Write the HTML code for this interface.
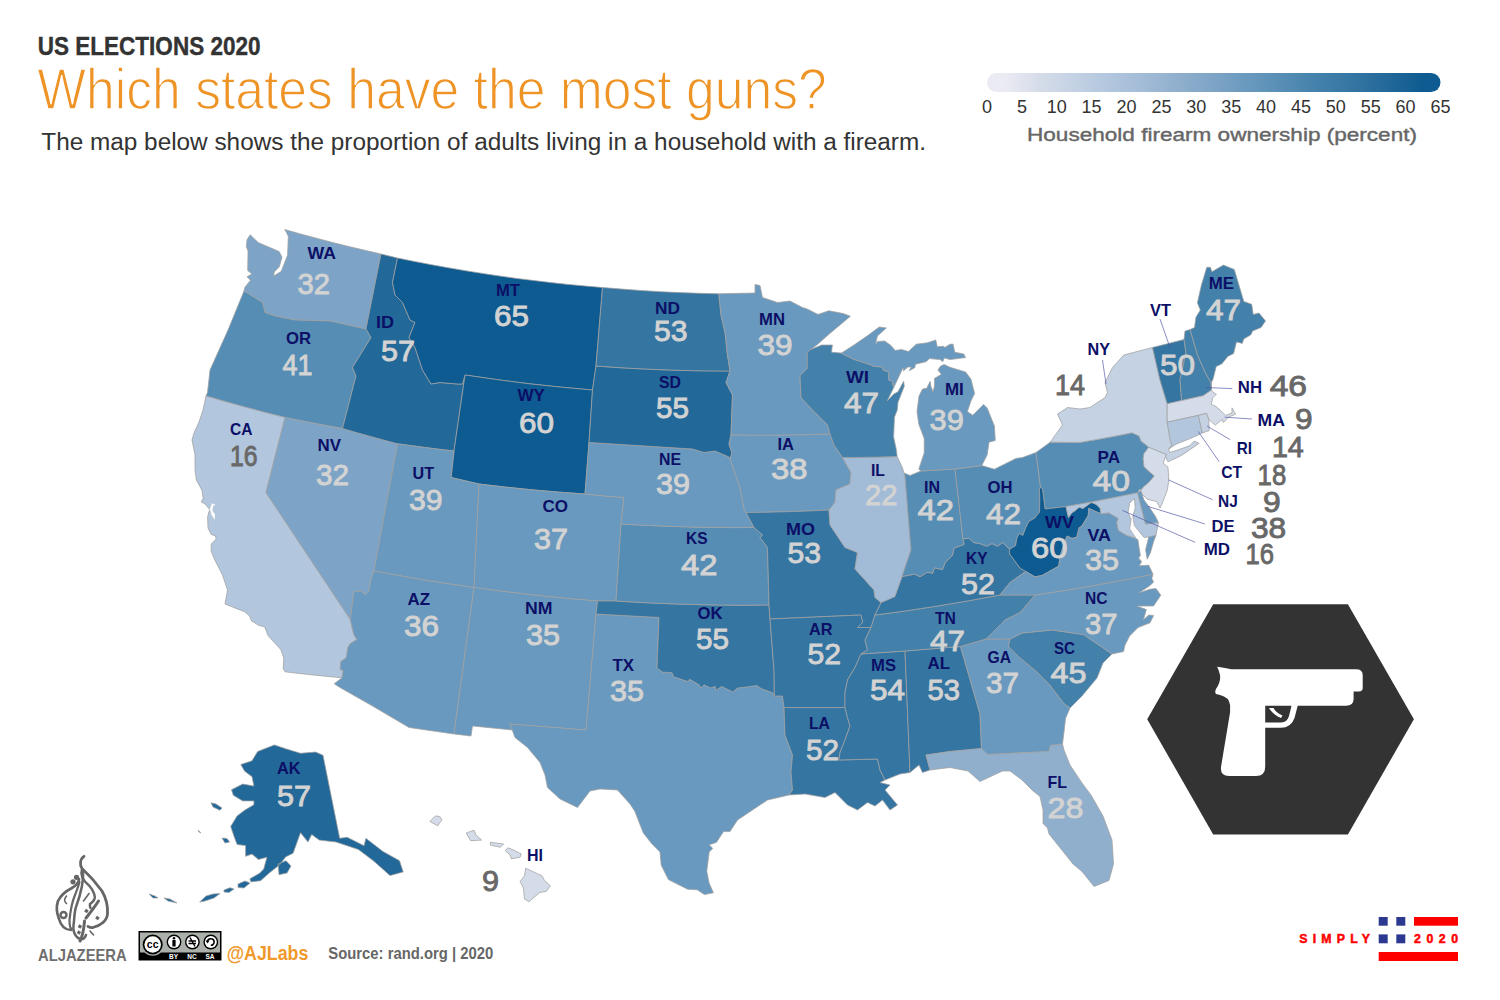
<!DOCTYPE html><html><head><meta charset="utf-8"><style>html,body{margin:0;padding:0;background:#fff;width:1500px;height:1000px;overflow:hidden}svg{display:block}text{font-family:"Liberation Sans",sans-serif}</style></head><body>
<svg width="1500" height="1000" viewBox="0 0 1500 1000">
<rect width="1500" height="1000" fill="#fff"/>
<text x="37.8" y="54.9" font-size="25.3" font-weight="bold" fill="#333333" textLength="222.7" lengthAdjust="spacingAndGlyphs" stroke="#333" stroke-width="0.4">US ELECTIONS 2020</text>
<text x="37.3" y="108.5" font-size="56.5" font-weight="normal" fill="#ee9325" textLength="789.4" lengthAdjust="spacingAndGlyphs" stroke="#fff" stroke-width="1.3">Which states have the most guns?</text>
<text x="41.3" y="150.0" font-size="23.3" font-weight="normal" fill="#333333" textLength="884.7" lengthAdjust="spacingAndGlyphs">The map below shows the proportion of adults living in a household with a firearm.</text>
<defs><clipPath id="lg"><rect x="987" y="73" width="453.5" height="19" rx="9.5"/></clipPath></defs>
<defs><linearGradient id="lgr" x1="987" y1="0" x2="1440.5" y2="0" gradientUnits="userSpaceOnUse"><stop offset="0.0385" stop-color="#ebebf3"/><stop offset="0.1154" stop-color="#d5dce9"/><stop offset="0.1923" stop-color="#c4d2e4"/><stop offset="0.2692" stop-color="#b2c6de"/><stop offset="0.3462" stop-color="#a2bbd7"/><stop offset="0.4231" stop-color="#8fafcd"/><stop offset="0.5000" stop-color="#7da4c6"/><stop offset="0.5769" stop-color="#6999be"/><stop offset="0.6538" stop-color="#568db5"/><stop offset="0.7308" stop-color="#4381ab"/><stop offset="0.8077" stop-color="#3575a2"/><stop offset="0.8846" stop-color="#226899"/><stop offset="0.9615" stop-color="#0e5b91"/></linearGradient></defs>
<rect x="987" y="73" width="453.5" height="19" rx="9.5" fill="url(#lgr)"/>
<text x="987.0" y="113" font-size="18" fill="#333" text-anchor="middle">0</text>
<text x="1021.9" y="113" font-size="18" fill="#333" text-anchor="middle">5</text>
<text x="1056.8" y="113" font-size="18" fill="#333" text-anchor="middle">10</text>
<text x="1091.6" y="113" font-size="18" fill="#333" text-anchor="middle">15</text>
<text x="1126.5" y="113" font-size="18" fill="#333" text-anchor="middle">20</text>
<text x="1161.4" y="113" font-size="18" fill="#333" text-anchor="middle">25</text>
<text x="1196.3" y="113" font-size="18" fill="#333" text-anchor="middle">30</text>
<text x="1231.2" y="113" font-size="18" fill="#333" text-anchor="middle">35</text>
<text x="1266.0" y="113" font-size="18" fill="#333" text-anchor="middle">40</text>
<text x="1300.9" y="113" font-size="18" fill="#333" text-anchor="middle">45</text>
<text x="1335.8" y="113" font-size="18" fill="#333" text-anchor="middle">50</text>
<text x="1370.7" y="113" font-size="18" fill="#333" text-anchor="middle">55</text>
<text x="1405.6" y="113" font-size="18" fill="#333" text-anchor="middle">60</text>
<text x="1440.4" y="113" font-size="18" fill="#333" text-anchor="middle">65</text>
<text x="1027.0" y="140.8" font-size="19.2" font-weight="normal" fill="#666666" textLength="390.0" lengthAdjust="spacingAndGlyphs" stroke="#666" stroke-width="0.4">Household firearm ownership (percent)</text>
<g stroke="#a0a0a0" stroke-width="0.75" stroke-linejoin="round">
<path d="M284.8,229.5L300.7,234.0L316.7,238.3L332.7,242.5L348.8,246.5L364.9,250.3L381.0,254.0L366.0,329.0L330.0,321.0L295.0,320.0L275.0,316.0L265.0,312.5L262.5,302.5L244.0,291.0L244.9,287.3L250.5,280.3L247.0,276.8L251.9,274.0L247.7,270.5L248.0,250.9L246.3,246.7L247.0,239.7L250.2,234.8L258.2,242.5L277.8,250.9L279.2,251.6L282.0,257.2L279.2,267.0L274.3,271.9L273.6,276.1L281.3,271.2L287.6,255.1L288.3,236.2L284.8,229.5Z" fill="#7da4c6"/>
<path d="M366.0,329.0L371.0,337.5L352.5,367.5L356.0,376.0L342.5,428.5L328.1,425.9L313.7,423.2L299.3,420.4L285.0,417.5L265.2,412.5L245.4,407.2L225.7,401.7L206.0,396.0L207.5,392.5L210.0,370.0L228.0,330.0L244.0,291.0L262.5,302.5L265.0,312.5L275.0,316.0L295.0,320.0L330.0,321.0L366.0,329.0Z" fill="#568db5"/>
<path d="M206.0,396.0L203.0,410.0L199.0,422.0L194.0,433.0L192.0,440.0L195.0,455.0L195.0,470.0L196.4,480.0L202.0,490.4L203.2,498.4L201.2,502.0L205.2,504.0L209.6,509.6L207.6,516.8L208.0,528.0L211.2,534.4L215.6,536.0L216.0,539.2L211.2,544.0L211.2,551.2L214.8,560.0L222.5,575.0L227.5,590.0L225.0,604.0L240.0,610.0L244.8,611.8L249.6,616.0L251.4,620.8L259.2,625.6L264.6,626.8L268.2,635.8L280.8,649.6L283.8,658.0L283.2,668.8L285.0,671.8L304.0,674.0L323.0,676.0L342.0,677.8L343.2,670.6L340.2,669.4L340.8,661.6L346.2,658.0L348.0,647.2L350.4,643.6L357.0,639.4L354.0,635.2L352.2,628.0L350.4,619.6L266.0,492.5L285.0,417.5L265.2,412.5L245.4,407.2L225.7,401.7L206.0,396.0Z" fill="#b2c6de"/>
<path d="M342.5,428.5L356.2,432.5L369.9,436.3L383.7,440.1L397.5,443.8L374.0,571.0L370.8,580.0L369.0,590.8L365.4,595.0L361.8,591.4L354.0,591.4L352.8,599.8L350.4,619.6L266.0,492.5L285.0,417.5L299.3,420.4L313.7,423.2L328.1,425.9L342.5,428.5Z" fill="#7da4c6"/>
<path d="M381.0,254.0L397.5,258.0L392.5,282.5L395.0,295.0L402.5,302.5L410.0,320.0L415.0,322.5L409.0,337.5L415.0,347.5L422.5,370.0L431.0,384.0L440.0,382.5L457.5,384.0L462.5,384.0L465.0,375.0L454.0,451.0L439.9,449.4L425.7,447.6L411.6,445.7L397.5,443.8L383.7,440.1L369.9,436.3L356.2,432.5L342.5,428.5L356.0,376.0L352.5,367.5L371.0,337.5L366.0,329.0L381.0,254.0Z" fill="#226899"/>
<path d="M397.5,258.0L414.4,261.4L431.4,264.7L448.4,267.8L465.4,270.7L482.5,273.4L499.5,276.0L516.7,278.4L533.8,280.5L550.9,282.6L568.1,284.4L585.3,286.0L602.5,287.5L596.0,366.0L592.5,390.0L560.5,387.1L528.6,383.7L496.8,379.6L465.0,375.0L462.5,384.0L457.5,384.0L440.0,382.5L431.0,384.0L422.5,370.0L415.0,347.5L409.0,337.5L415.0,322.5L410.0,320.0L402.5,302.5L395.0,295.0L392.5,282.5L397.5,258.0Z" fill="#0e5b91"/>
<path d="M465.0,375.0L496.8,379.6L528.6,383.7L560.5,387.1L592.5,390.0L589.0,442.5L585.0,494.0L558.5,492.1L531.9,489.8L505.5,487.1L479.0,484.0L451.0,477.5L454.0,451.0L465.0,375.0Z" fill="#0e5b91"/>
<path d="M397.5,443.8L411.6,445.7L425.7,447.6L439.9,449.4L454.0,451.0L451.0,477.5L479.0,484.0L474.0,587.5L448.9,583.9L423.9,579.9L398.9,575.6L374.0,571.0L397.5,443.8Z" fill="#6999be"/>
<path d="M479.0,484.0L505.5,487.1L531.9,489.8L558.5,492.1L585.0,494.0L604.5,495.9L624.0,497.5L621.0,524.0L616.0,601.0L597.5,601.0L566.5,598.4L535.6,595.2L504.8,591.6L474.0,587.5L479.0,484.0Z" fill="#6999be"/>
<path d="M374.0,571.0L398.9,575.6L423.9,579.9L448.9,583.9L474.0,587.5L454.0,734.0L409.0,727.5L372.5,706.0L340.0,687.5L334.2,683.8L342.0,677.8L343.2,670.6L340.2,669.4L340.8,661.6L346.2,658.0L348.0,647.2L350.4,643.6L357.0,639.4L354.0,635.2L352.2,628.0L350.4,619.6L352.8,599.8L354.0,591.4L361.8,591.4L365.4,595.0L369.0,590.8L370.8,580.0L374.0,571.0Z" fill="#6999be"/>
<path d="M474.0,587.5L504.8,591.6L535.6,595.2L566.5,598.4L597.5,601.0L596.0,614.0L586.0,730.0L510.0,724.0L512.5,730.0L472.5,726.0L471.0,736.0L454.0,734.0L474.0,587.5Z" fill="#6999be"/>
<path d="M596.0,614.0L659.0,617.5L657.0,668.0L662.4,672.0L672.0,672.8L673.6,676.8L688.0,681.6L689.6,679.2L699.2,684.8L700.8,688.0L704.0,684.8L710.4,688.0L715.2,686.4L716.0,690.4L721.6,686.4L732.8,692.0L737.6,688.0L745.6,687.2L750.4,686.4L756.8,685.6L761.6,688.8L772.8,692.8L774.4,696.0L782.4,696.0L784.0,707.5L785.0,735.0L792.5,755.0L791.0,772.5L792.5,790.0L789.0,795.0L767.5,800.0L737.5,820.0L730.0,831.6L723.6,831.6L716.4,842.4L709.2,844.8L712.8,848.4L709.2,852.0L706.8,871.2L709.2,883.2L713.4,892.8L704.4,894.6L697.2,889.8L687.6,889.2L678.0,884.4L668.4,879.6L661.2,865.2L660.0,852.0L651.6,843.6L643.2,832.8L634.8,811.2L630.0,804.0L617.5,790.0L600.0,789.0L590.0,791.0L577.5,807.5L560.0,799.0L547.5,787.5L545.0,775.0L540.0,762.5L527.5,747.5L515.0,737.5L510.0,724.0L586.0,730.0L596.0,614.0Z" fill="#6999be"/>
<path d="M616.0,601.0L641.5,602.5L667.0,603.7L692.5,604.5L718.0,605.0L743.5,605.2L769.0,605.0L770.0,619.0L774.0,670.0L774.4,696.0L772.8,692.8L761.6,688.8L756.8,685.6L750.4,686.4L745.6,687.2L737.6,688.0L732.8,692.0L721.6,686.4L716.0,690.4L715.2,686.4L710.4,688.0L704.0,684.8L700.8,688.0L699.2,684.8L689.6,679.2L688.0,681.6L673.6,676.8L672.0,672.8L662.4,672.0L657.0,668.0L659.0,617.5L596.0,614.0L597.5,601.0L616.0,601.0Z" fill="#3575a2"/>
<path d="M621.0,524.0L643.1,525.2L665.3,526.2L687.5,526.9L709.6,527.4L731.8,527.6L754.0,527.5L762.5,535.0L760.0,537.5L767.5,547.5L769.0,605.0L743.5,605.2L718.0,605.0L692.5,604.5L667.0,603.7L641.5,602.5L616.0,601.0L621.0,524.0Z" fill="#568db5"/>
<path d="M589.0,442.5L692.5,449.0L704.0,452.5L715.0,451.0L729.0,457.0L730.0,459.0L740.0,487.5L744.0,509.0L746.0,512.5L754.0,527.5L731.8,527.6L709.6,527.4L687.5,526.9L665.3,526.2L643.1,525.2L621.0,524.0L624.0,497.5L604.5,495.9L585.0,494.0L589.0,442.5Z" fill="#6999be"/>
<path d="M596.0,366.0L618.3,367.6L640.6,368.8L663.0,369.8L685.3,370.5L707.7,370.9L730.0,371.0L726.0,382.5L732.5,395.0L731.0,435.0L729.0,444.0L732.0,453.0L730.0,459.0L729.0,457.0L715.0,451.0L704.0,452.5L692.5,449.0L589.0,442.5L592.5,390.0L596.0,366.0Z" fill="#226899"/>
<path d="M602.5,287.5L621.8,289.1L641.2,290.5L660.6,291.7L679.9,292.6L699.3,293.3L718.8,293.8L721.0,315.0L725.0,332.5L727.5,355.0L730.0,371.0L707.7,370.9L685.3,370.5L663.0,369.8L640.6,368.8L618.3,367.6L596.0,366.0L602.5,287.5Z" fill="#3575a2"/>
<path d="M718.8,293.8L755.0,293.0L755.0,284.5L760.0,285.5L762.5,297.5L777.5,302.5L790.0,301.0L802.5,307.5L807.2,309.0L818.0,314.4L828.8,310.8L843.2,313.5L850.4,316.2L840.0,325.0L828.0,335.0L818.0,344.0L810.8,349.5L807.2,352.2L807.2,368.4L800.0,375.6L801.0,397.5L812.5,410.0L827.5,425.0L830.0,434.0L805.3,434.8L780.5,435.2L755.7,435.3L731.0,435.0L732.5,395.0L726.0,382.5L730.0,371.0L727.5,355.0L725.0,332.5L721.0,315.0L718.8,293.8Z" fill="#6999be"/>
<path d="M731.0,435.0L755.7,435.3L780.5,435.2L805.3,434.8L830.0,434.0L834.0,445.0L842.5,457.5L851.0,472.5L850.0,484.0L836.0,490.0L835.0,502.5L829.0,510.0L808.3,511.0L787.5,511.7L766.8,512.2L746.0,512.5L744.0,509.0L740.0,487.5L730.0,459.0L732.0,453.0L729.0,444.0L731.0,435.0Z" fill="#6999be"/>
<path d="M746.0,512.5L766.8,512.2L787.5,511.7L808.3,511.0L829.0,510.0L830.0,525.0L845.0,547.5L857.5,552.5L855.0,569.0L865.0,580.0L874.0,590.0L875.0,597.5L881.0,602.5L880.0,605.0L875.0,615.0L871.0,627.5L857.5,627.5L862.5,622.5L861.0,615.0L770.0,619.0L769.0,605.0L767.5,547.5L760.0,537.5L762.5,535.0L754.0,527.5L746.0,512.5Z" fill="#3575a2"/>
<path d="M770.0,619.0L861.0,615.0L862.5,622.5L857.5,627.5L871.0,627.5L865.0,640.0L867.5,650.0L861.0,654.0L855.0,667.5L847.5,680.0L845.0,692.5L845.0,707.5L829.7,707.7L814.5,707.7L799.2,707.7L784.0,707.5L782.4,696.0L774.4,696.0L774.0,670.0L770.0,619.0Z" fill="#3575a2"/>
<path d="M784.0,707.5L799.2,707.7L814.5,707.7L829.7,707.7L845.0,707.5L847.5,717.5L850.0,726.0L845.0,740.0L840.0,752.5L839.0,760.0L877.5,759.0L880.0,770.0L885.0,780.0L880.0,782.5L890.0,785.0L885.0,790.0L897.5,805.0L890.0,810.0L882.5,800.0L875.0,806.0L867.5,802.5L857.5,810.0L847.5,805.0L842.5,800.0L835.0,792.5L825.0,797.5L805.0,794.0L789.0,795.0L792.5,790.0L791.0,772.5L792.5,755.0L785.0,735.0L784.0,707.5Z" fill="#3575a2"/>
<path d="M861.0,654.0L905.0,651.0L910.0,772.5L900.0,774.0L885.0,780.0L880.0,770.0L877.5,759.0L839.0,760.0L840.0,752.5L845.0,740.0L850.0,726.0L847.5,717.5L845.0,707.5L845.0,692.5L847.5,680.0L855.0,667.5L861.0,654.0Z" fill="#3575a2"/>
<path d="M905.0,651.0L960.5,646.5L980.0,714.0L981.5,748.5L950.0,751.5L926.0,755.0L930.0,770.0L922.5,772.5L919.0,765.0L910.0,772.5L905.0,651.0Z" fill="#3575a2"/>
<path d="M960.5,646.5L986.0,639.0L1010.0,639.0L1008.5,646.5L1019.0,657.0L1037.0,672.0L1049.0,684.0L1064.0,703.5L1070.0,708.0L1065.5,718.5L1064.0,732.0L1062.5,744.0L1050.5,745.5L1049.0,751.5L987.5,754.5L981.5,748.5L980.0,714.0L960.5,646.5Z" fill="#6999be"/>
<path d="M981.5,748.5L950.0,751.5L926.0,755.0L930.0,770.0L950.0,767.5L968.0,771.0L980.0,781.5L1002.5,771.0L1010.0,771.0L1022.0,780.0L1032.5,790.5L1040.0,796.5L1043.0,810.0L1043.0,823.5L1047.5,828.0L1049.0,834.0L1061.0,849.0L1073.0,864.0L1082.0,871.5L1094.0,886.5L1109.0,880.5L1113.5,864.0L1112.0,840.0L1103.0,816.0L1091.0,795.0L1082.0,783.0L1070.0,765.0L1064.0,750.0L1062.5,744.0L1050.5,745.5L1049.0,751.5L987.5,754.5L981.5,748.5Z" fill="#8fafcd"/>
<path d="M1010.0,639.0L1022.0,633.0L1052.0,630.0L1083.5,634.5L1112.0,654.0L1103.0,663.0L1097.0,678.0L1082.0,696.0L1070.0,708.0L1064.0,703.5L1049.0,684.0L1037.0,672.0L1019.0,657.0L1008.5,646.5L1010.0,639.0Z" fill="#4381ab"/>
<path d="M1035.0,595.0L1064.6,590.5L1094.2,585.5L1123.6,580.1L1153.0,574.2L1151.8,578.4L1153.6,582.0L1150.0,585.6L1139.2,592.8L1150.0,589.2L1156.0,588.6L1160.8,595.2L1153.6,606.0L1136.8,606.0L1146.4,609.6L1143.4,619.8L1148.8,615.0L1153.6,615.6L1150.0,622.8L1138.0,627.6L1129.6,636.0L1124.8,645.6L1123.6,651.6L1112.0,654.0L1083.5,634.5L1052.0,630.0L1022.0,633.0L1010.0,639.0L986.0,639.0L995.0,630.0L1005.0,620.0L1020.0,612.5L1035.0,595.0Z" fill="#6999be"/>
<path d="M875.0,615.0L906.4,610.8L937.7,606.0L968.9,600.7L1000.0,595.0L1035.0,595.0L1020.0,612.5L1005.0,620.0L995.0,630.0L986.0,639.0L960.5,646.5L905.0,651.0L861.0,654.0L867.5,650.0L865.0,640.0L871.0,627.5L875.0,615.0Z" fill="#4381ab"/>
<path d="M1009.6,549.2L1009.6,554.0L1020.4,568.4L1025.8,571.4L1010.0,582.5L1000.0,595.0L968.9,600.7L937.7,606.0L906.4,610.8L875.0,615.0L880.0,605.0L881.0,602.5L894.8,596.6L899.3,584.0L902.0,576.5L914.6,574.1L920.0,576.8L927.2,572.3L932.6,573.2L934.4,567.8L942.5,569.6L945.2,562.4L952.4,555.2L954.2,548.0L964.1,544.4L963.0,539.0L968.6,538.1L974.0,542.6L979.4,543.5L986.6,546.2L992.0,543.5L997.4,546.2L1002.8,542.6L1009.6,549.2Z" fill="#3575a2"/>
<path d="M842.5,457.5L860.7,457.4L879.0,457.1L897.2,456.6L902.5,468.0L904.0,473.0L905.0,476.0L911.0,550.0L902.0,576.5L899.3,584.0L894.8,596.6L881.0,602.5L875.0,597.5L874.0,590.0L865.0,580.0L855.0,569.0L857.5,552.5L845.0,547.5L830.0,525.0L829.0,510.0L835.0,502.5L836.0,490.0L850.0,484.0L851.0,472.5L842.5,457.5Z" fill="#a2bbd7"/>
<path d="M904.0,473.0L910.0,475.5L921.0,471.0L955.0,469.0L963.0,539.0L964.1,544.4L954.2,548.0L952.4,555.2L945.2,562.4L942.5,569.6L934.4,567.8L932.6,573.2L927.2,572.3L920.0,576.8L914.6,574.1L902.0,576.5L911.0,550.0L905.0,476.0L904.0,473.0Z" fill="#568db5"/>
<path d="M955.0,469.0L981.8,465.6L994.4,469.2L1016.0,458.4L1022.5,457.5L1036.0,452.5L1040.5,487.5L1039.4,489.0L1039.8,498.8L1039.6,512.0L1034.8,518.0L1028.8,521.6L1025.8,527.6L1022.8,535.4L1019.2,533.6L1016.8,538.4L1015.6,545.6L1009.6,549.2L1002.8,542.6L997.4,546.2L992.0,543.5L986.6,546.2L979.4,543.5L974.0,542.6L968.6,538.1L963.0,539.0L955.0,469.0Z" fill="#568db5"/>
<path d="M810.8,349.5L821.6,345.0L832.4,345.0L831.5,352.2L841.4,353.1L854.0,359.4L870.0,364.5L873.5,366.3L882.6,367.0L883.3,370.1L888.9,372.2L888.6,379.9L892.4,381.3L893.1,386.2L894.2,386.6L887.2,400.9L893.8,393.9L898.0,391.8L903.6,381.3L904.3,386.2L898.0,402.3L897.3,410.0L894.5,417.0L893.6,436.8L896.3,449.4L897.2,456.6L879.0,457.1L860.7,457.4L842.5,457.5L834.0,445.0L830.0,434.0L827.5,425.0L812.5,410.0L801.0,397.5L800.0,375.6L807.2,368.4L807.2,352.2L810.8,349.5Z" fill="#4381ab"/>
<path d="M921.0,471.0L918.8,469.2L924.2,453.0L924.2,438.6L918.8,424.2L917.0,411.6L919.0,396.0L922.5,389.0L926.7,388.3L930.2,381.3L930.9,386.2L933.0,391.8L934.4,386.2L934.4,378.5L941.4,374.3L937.9,370.1L940.7,365.9L944.2,364.5L950.0,367.3L965.6,372.0L971.0,379.2L974.6,393.6L971.0,400.8L967.4,411.6L972.8,415.2L983.6,404.4L987.2,408.0L994.4,426.0L995.3,440.4L989.0,442.2L987.2,454.8L981.8,465.6L955.0,469.0L921.0,471.0Z" fill="#6999be"/>
<path d="M841.4,353.1L854.0,359.4L870.0,364.5L873.5,366.3L882.6,367.0L883.3,370.1L888.9,372.2L888.6,379.9L892.4,381.3L893.1,386.2L894.2,386.6L902.9,368.0L903.6,370.8L907.8,367.0L911.3,367.0L909.2,370.8L914.8,367.7L915.5,364.2L926.0,361.7L929.5,358.6L940.0,359.6L942.8,361.7L944.2,357.9L950.0,359.6L965.6,357.6L963.8,354.0L954.8,352.2L953.0,344.1L950.0,344.2L944.9,347.4L943.5,346.3L937.2,346.7L935.8,340.0L927.4,342.8L916.2,344.2L908.5,351.5L901.5,349.5L895.2,350.5L891.0,345.6L884.7,341.0L877.7,341.4L875.6,343.9L877.4,336.0L886.4,327.9L879.2,327.0L868.4,335.1L854.0,345.0Z" fill="#6999be"/>
<path d="M1050.2,442.2L1080.0,442.4L1097.4,439.4L1114.7,436.2L1132.0,432.8L1139.2,436.0L1140.8,440.8L1148.8,447.2L1144.0,453.6L1143.2,458.4L1144.0,466.4L1148.8,471.2L1154.4,476.0L1148.8,482.4L1143.2,487.2L1140.8,490.4L1140.0,488.8L1137.6,492.8L1119.7,496.5L1101.9,500.0L1083.9,503.4L1066.0,506.6L1045.0,509.0L1042.5,489.0L1040.5,487.5L1036.0,452.5L1050.2,442.2Z" fill="#568db5"/>
<path d="M1045.0,509.0L1066.0,506.6L1068.4,517.4L1072.0,512.6L1075.0,510.8L1079.2,507.2L1082.8,508.4L1086.4,506.0L1091.2,502.4L1096.0,504.2L1100.2,508.4L1100.8,513.8L1088.8,508.4L1088.2,515.6L1081.6,526.4L1079.2,527.6L1076.8,537.2L1072.0,538.4L1067.2,536.0L1065.4,539.6L1060.0,556.4L1058.8,566.0L1042.0,575.6L1034.8,576.8L1025.8,571.4L1020.4,568.4L1009.6,554.0L1009.6,549.2L1015.6,545.6L1016.8,538.4L1019.2,533.6L1022.8,535.4L1025.8,527.6L1028.8,521.6L1034.8,518.0L1039.6,512.0L1039.8,498.8L1039.4,489.0L1040.5,487.5L1042.5,489.0L1045.0,509.0Z" fill="#0e5b91"/>
<path d="M1100.8,513.8L1108.8,512.8L1118.4,518.4L1116.8,522.4L1118.4,530.4L1126.4,535.2L1136.0,538.4L1138.0,540.0L1139.2,548.4L1140.4,555.6L1138.6,558.0L1141.6,561.6L1139.2,565.8L1148.8,565.2L1153.0,574.2L1123.6,580.1L1094.2,585.5L1064.6,590.5L1035.0,595.0L1000.0,595.0L1010.0,582.5L1025.8,571.4L1034.8,576.8L1042.0,575.6L1058.8,566.0L1060.0,556.4L1065.4,539.6L1067.2,536.0L1072.0,538.4L1076.8,537.2L1079.2,527.6L1081.6,526.4L1088.2,515.6L1088.8,508.4L1100.8,513.8Z" fill="#6999be"/>
<path d="M1148.8,536.8L1156.0,535.2L1153.6,541.6L1150.4,552.8L1147.2,559.2L1145.6,549.6Z" fill="#6999be"/>
<path d="M1066.0,506.6L1083.9,503.4L1101.9,500.0L1119.7,496.5L1137.6,492.8L1145.6,524.0L1158.4,522.4L1156.0,535.2L1148.8,536.8L1144.0,537.6L1134.4,525.6L1132.8,516.0L1135.2,508.0L1134.4,498.4L1129.6,503.2L1128.0,512.8L1131.2,519.2L1129.6,528.8L1136.0,538.4L1126.4,535.2L1118.4,530.4L1116.8,522.4L1118.4,518.4L1108.8,512.8L1100.8,513.8L1100.2,508.4L1096.0,504.2L1091.2,502.4L1086.4,506.0L1082.8,508.4L1079.2,507.2L1075.0,510.8L1072.0,512.6L1068.4,517.4L1066.0,506.6Z" fill="#b2c6de"/>
<path d="M1137.6,492.8L1140.8,490.4L1142.4,495.2L1144.0,500.0L1148.8,506.4L1155.2,516.0L1158.4,522.4L1145.6,524.0L1137.6,492.8Z" fill="#6999be"/>
<path d="M1148.8,447.2L1166.4,454.4L1163.2,463.2L1168.0,467.2L1168.8,480.8L1167.2,490.4L1161.6,504.8L1160.0,508.0L1156.8,501.6L1147.2,499.2L1142.4,494.4L1140.8,490.4L1143.2,487.2L1148.8,482.4L1154.4,476.0L1148.8,471.2L1144.0,466.4L1143.2,458.4L1144.0,453.6L1148.8,447.2Z" fill="#d5dce9"/>
<path d="M1123.8,355.0L1152.5,347.5L1160.0,380.0L1167.2,403.8L1167.2,422.2L1170.4,441.0L1172.0,445.0L1168.8,449.0L1169.6,452.5L1176.0,450.6L1189.6,445.8L1194.4,441.0L1199.2,443.4L1192.0,448.2L1181.6,455.4L1168.0,461.8L1165.6,457.0L1166.4,454.4L1148.8,447.2L1140.8,440.8L1139.2,436.0L1132.0,432.8L1114.7,436.2L1097.4,439.4L1080.0,442.4L1050.2,442.2L1062.5,425.0L1057.5,414.0L1067.5,407.5L1080.0,409.0L1090.0,407.5L1105.0,397.5L1107.5,392.5L1105.0,382.5L1112.5,367.5L1123.8,355.0Z" fill="#c4d2e4"/>
<path d="M1152.5,347.5L1184.0,339.5L1186.0,352.5L1180.0,380.0L1181.6,400.6L1167.2,403.8L1160.0,380.0L1152.5,347.5Z" fill="#3575a2"/>
<path d="M1184.0,339.5L1185.0,331.0L1190.1,329.6L1197.5,355.0L1205.0,372.0L1211.2,383.2L1211.5,390.0L1203.2,395.8L1181.6,400.6L1180.0,380.0L1186.0,352.5L1184.0,339.5Z" fill="#4381ab"/>
<path d="M1190.1,329.6L1194.5,327.5L1195.9,317.3L1200.3,310.1L1197.4,302.8L1200.3,289.8L1201.7,284.0L1206.8,267.3L1210.4,267.3L1211.9,271.7L1223.5,265.1L1234.3,269.5L1243.8,301.4L1251.7,304.3L1253.2,314.4L1259.0,313.0L1265.5,320.9L1261.1,327.5L1252.5,331.1L1251.0,334.7L1243.8,339.0L1242.3,343.4L1236.5,341.9L1233.6,353.5L1227.8,356.4L1222.0,363.7L1216.2,366.6L1213.3,378.2L1211.2,383.2L1211.5,390.0L1211.2,383.2L1205.0,372.0L1197.5,355.0L1190.1,329.6Z" fill="#4381ab"/>
<path d="M1167.2,403.8L1181.6,400.6L1203.2,395.8L1211.5,390.0L1212.8,392.2L1216.4,394.2L1212.8,397.8L1211.2,404.2L1216.0,406.6L1220.8,410.6L1225.6,415.4L1232.0,413.0L1232.0,407.8L1235.6,414.2L1228.8,417.0L1223.2,422.6L1222.4,419.4L1215.2,425.0L1210.4,421.0L1208.8,419.4L1206.4,413.4L1198.4,415.4L1167.2,422.2L1167.2,403.8Z" fill="#d5dce9"/>
<path d="M1167.2,422.2L1198.4,415.4L1202.4,433.0L1192.0,437.8L1184.0,441.0L1176.0,444.2L1168.8,449.0L1172.0,445.0L1170.4,441.0L1167.2,422.2Z" fill="#b2c6de"/>
<path d="M1198.4,415.4L1206.4,413.4L1208.8,419.4L1209.2,430.6L1202.4,433.0L1198.4,415.4Z" fill="#c4d2e4"/>
<path d="M240.8,764.5L252.0,760.8L257.6,751.5L274.4,744.9L285.6,748.7L300.5,753.3L315.5,752.0L323.0,755.2L339.7,838.3L347.2,837.3L364.0,845.7L365.9,838.3L382.7,851.3L399.5,860.7L403.2,871.9L390.0,875.6L373.3,860.7L358.4,849.5L336.0,842.0L319.2,840.1L311.7,834.5L308.0,842.0L300.5,832.7L293.1,853.2L285.6,856.9L279.7,864.8L270.1,872.3L260.5,880.8L250.9,881.9L249.9,878.7L259.5,873.3L263.7,869.1L266.9,857.3L258.4,859.5L252.0,854.1L245.6,856.3L245.6,845.6L237.1,844.5L233.9,836.0L230.7,826.4L237.1,815.9L244.5,810.3L253.9,804.7L253.9,800.9L242.7,800.9L233.3,795.3L231.5,789.7L242.7,784.1L253.9,786.0L252.0,776.7L244.5,771.1ZM278.0,864.0L286.0,860.7L291.0,866.0L287.0,873.0L279.0,874.7ZM211.0,802.8L216.0,804.0L222.0,808.0L220.0,810.3L213.0,807.0ZM222.0,838.0L227.0,838.5L229.6,842.0L225.0,843.0ZM149.0,894.0L155.0,896.0L158.0,898.0L153.0,898.0ZM164.0,898.0L170.0,899.0L177.0,903.0L168.0,901.0ZM238.0,884.0L245.0,881.0L250.0,883.0L244.0,888.0L238.0,887.5ZM224.0,890.0L230.0,887.7L234.0,889.0L229.0,892.5L224.0,892.0ZM199.7,902.0L206.0,896.0L213.0,894.0L220.0,893.6L214.0,898.0L205.0,901.0ZM198.0,830.0L201.0,833.0L199.0,832.0Z" fill="#226899"/>
<path d="M429.9,821.4L435.4,815.9L439.8,816.5L442.0,819.8L437.6,825.8ZM466.2,833.0L473.9,830.2L476.1,835.2L481.6,840.1L470.6,840.7ZM490.4,842.3L503.6,844.0L500.3,847.3L490.4,845.1ZM505.2,850.6L508.0,847.8L513.5,850.0L521.2,853.9L520.1,857.2L511.3,858.8L510.2,855.0ZM525.6,868.2L542.1,875.9L544.3,880.3L550.3,885.8L546.5,891.3L539.9,892.4L528.9,901.7L524.5,899.0L523.4,888.0L520.1,881.4L524.5,875.9Z" fill="#d5dce9"/>
<path d="M209.6,509.6L212.0,503.2L215.6,504.8L213.2,506.0L212.5,511.0L215.0,514.0L214.8,520.0L211.5,515.0L210.5,511.0Z" fill="#fff" stroke="#d0d0d0" stroke-width="0.3"/>
</g>
<g stroke="#4a4fa3" stroke-width="0.65">
<line x1="1160.0" y1="319.0" x2="1170.0" y2="347.5"/>
<line x1="1102.5" y1="360.0" x2="1106.0" y2="384.0"/>
<line x1="1205.9" y1="387.5" x2="1232.3" y2="388.6"/>
<line x1="1224.6" y1="417.2" x2="1252.0" y2="419.0"/>
<line x1="1207.0" y1="426.0" x2="1230.0" y2="439.6"/>
<line x1="1198.2" y1="431.5" x2="1219.1" y2="461.6"/>
<line x1="1168.5" y1="479.9" x2="1212.5" y2="499.7"/>
<line x1="1147.6" y1="506.3" x2="1204.8" y2="523.9"/>
<line x1="1122.4" y1="510.4" x2="1195.2" y2="542.4"/>
</g>
<text x="307.5" y="259.0" font-size="16.5" font-weight="bold" fill="#0c0f66" textLength="28.5" lengthAdjust="spacingAndGlyphs">WA</text>
<text x="297.5" y="294.0" font-size="29.0" font-weight="normal" fill="#d3d3d3" textLength="32.5" lengthAdjust="spacingAndGlyphs" stroke="#d3d3d3" stroke-width="0.9">32</text>
<text x="496.0" y="296.0" font-size="16.5" font-weight="bold" fill="#0c0f66" textLength="24.0" lengthAdjust="spacingAndGlyphs">MT</text>
<text x="494.0" y="326.0" font-size="29.0" font-weight="normal" fill="#d3d3d3" textLength="35.0" lengthAdjust="spacingAndGlyphs" stroke="#d3d3d3" stroke-width="0.9">65</text>
<text x="376.0" y="327.5" font-size="16.5" font-weight="bold" fill="#0c0f66" textLength="18.0" lengthAdjust="spacingAndGlyphs">ID</text>
<text x="381.0" y="361.0" font-size="29.0" font-weight="normal" fill="#d3d3d3" textLength="34.0" lengthAdjust="spacingAndGlyphs" stroke="#d3d3d3" stroke-width="0.9">57</text>
<text x="286.0" y="344.0" font-size="16.5" font-weight="bold" fill="#0c0f66" textLength="25.0" lengthAdjust="spacingAndGlyphs">OR</text>
<text x="282.5" y="375.0" font-size="29.0" font-weight="normal" fill="#d3d3d3" textLength="30.0" lengthAdjust="spacingAndGlyphs" stroke="#d3d3d3" stroke-width="0.9">41</text>
<text x="517.5" y="401.0" font-size="16.5" font-weight="bold" fill="#0c0f66" textLength="27.5" lengthAdjust="spacingAndGlyphs">WY</text>
<text x="519.0" y="432.5" font-size="29.0" font-weight="normal" fill="#d3d3d3" textLength="35.0" lengthAdjust="spacingAndGlyphs" stroke="#d3d3d3" stroke-width="0.9">60</text>
<text x="230.0" y="435.0" font-size="16.5" font-weight="bold" fill="#0c0f66" textLength="22.5" lengthAdjust="spacingAndGlyphs">CA</text>
<text x="230.0" y="466.0" font-size="29.0" font-weight="normal" fill="#686868" textLength="27.5" lengthAdjust="spacingAndGlyphs" stroke="#686868" stroke-width="0.9">16</text>
<text x="317.5" y="451.0" font-size="16.5" font-weight="bold" fill="#0c0f66" textLength="23.5" lengthAdjust="spacingAndGlyphs">NV</text>
<text x="316.0" y="485.0" font-size="29.0" font-weight="normal" fill="#d3d3d3" textLength="33.0" lengthAdjust="spacingAndGlyphs" stroke="#d3d3d3" stroke-width="0.9">32</text>
<text x="412.5" y="479.0" font-size="16.5" font-weight="bold" fill="#0c0f66" textLength="21.5" lengthAdjust="spacingAndGlyphs">UT</text>
<text x="409.0" y="510.0" font-size="29.0" font-weight="normal" fill="#d3d3d3" textLength="33.5" lengthAdjust="spacingAndGlyphs" stroke="#d3d3d3" stroke-width="0.9">39</text>
<text x="542.5" y="512.0" font-size="16.5" font-weight="bold" fill="#0c0f66" textLength="25.5" lengthAdjust="spacingAndGlyphs">CO</text>
<text x="534.0" y="549.0" font-size="29.0" font-weight="normal" fill="#d3d3d3" textLength="34.0" lengthAdjust="spacingAndGlyphs" stroke="#d3d3d3" stroke-width="0.9">37</text>
<text x="407.5" y="605.0" font-size="16.5" font-weight="bold" fill="#0c0f66" textLength="22.5" lengthAdjust="spacingAndGlyphs">AZ</text>
<text x="404.0" y="636.0" font-size="29.0" font-weight="normal" fill="#d3d3d3" textLength="35.0" lengthAdjust="spacingAndGlyphs" stroke="#d3d3d3" stroke-width="0.9">36</text>
<text x="525.0" y="614.0" font-size="16.5" font-weight="bold" fill="#0c0f66" textLength="27.5" lengthAdjust="spacingAndGlyphs">NM</text>
<text x="526.0" y="645.0" font-size="29.0" font-weight="normal" fill="#d3d3d3" textLength="34.0" lengthAdjust="spacingAndGlyphs" stroke="#d3d3d3" stroke-width="0.9">35</text>
<text x="655.0" y="314.0" font-size="16.5" font-weight="bold" fill="#0c0f66" textLength="25.0" lengthAdjust="spacingAndGlyphs">ND</text>
<text x="654.0" y="341.0" font-size="29.0" font-weight="normal" fill="#d3d3d3" textLength="33.5" lengthAdjust="spacingAndGlyphs" stroke="#d3d3d3" stroke-width="0.9">53</text>
<text x="659.0" y="387.5" font-size="16.5" font-weight="bold" fill="#0c0f66" textLength="22.0" lengthAdjust="spacingAndGlyphs">SD</text>
<text x="656.0" y="417.5" font-size="29.0" font-weight="normal" fill="#d3d3d3" textLength="33.0" lengthAdjust="spacingAndGlyphs" stroke="#d3d3d3" stroke-width="0.9">55</text>
<text x="759.0" y="325.0" font-size="16.5" font-weight="bold" fill="#0c0f66" textLength="26.0" lengthAdjust="spacingAndGlyphs">MN</text>
<text x="757.5" y="355.0" font-size="29.0" font-weight="normal" fill="#d3d3d3" textLength="35.0" lengthAdjust="spacingAndGlyphs" stroke="#d3d3d3" stroke-width="0.9">39</text>
<text x="846.0" y="382.5" font-size="16.5" font-weight="bold" fill="#0c0f66" textLength="23.0" lengthAdjust="spacingAndGlyphs">WI</text>
<text x="844.0" y="412.5" font-size="29.0" font-weight="normal" fill="#d3d3d3" textLength="35.0" lengthAdjust="spacingAndGlyphs" stroke="#d3d3d3" stroke-width="0.9">47</text>
<text x="659.0" y="465.0" font-size="16.5" font-weight="bold" fill="#0c0f66" textLength="22.0" lengthAdjust="spacingAndGlyphs">NE</text>
<text x="656.0" y="494.0" font-size="29.0" font-weight="normal" fill="#d3d3d3" textLength="34.0" lengthAdjust="spacingAndGlyphs" stroke="#d3d3d3" stroke-width="0.9">39</text>
<text x="777.5" y="450.0" font-size="16.5" font-weight="bold" fill="#0c0f66" textLength="16.5" lengthAdjust="spacingAndGlyphs">IA</text>
<text x="771.0" y="479.0" font-size="29.0" font-weight="normal" fill="#d3d3d3" textLength="36.5" lengthAdjust="spacingAndGlyphs" stroke="#d3d3d3" stroke-width="0.9">38</text>
<text x="871.0" y="476.0" font-size="16.5" font-weight="bold" fill="#0c0f66" textLength="14.0" lengthAdjust="spacingAndGlyphs">IL</text>
<text x="865.0" y="505.0" font-size="29.0" font-weight="normal" fill="#d3d3d3" textLength="32.5" lengthAdjust="spacingAndGlyphs" stroke="#d3d3d3" stroke-width="0.9">22</text>
<text x="786.0" y="535.0" font-size="16.5" font-weight="bold" fill="#0c0f66" textLength="29.0" lengthAdjust="spacingAndGlyphs">MO</text>
<text x="787.5" y="562.5" font-size="29.0" font-weight="normal" fill="#d3d3d3" textLength="33.5" lengthAdjust="spacingAndGlyphs" stroke="#d3d3d3" stroke-width="0.9">53</text>
<text x="686.0" y="544.0" font-size="16.5" font-weight="bold" fill="#0c0f66" textLength="21.5" lengthAdjust="spacingAndGlyphs">KS</text>
<text x="681.0" y="575.0" font-size="29.0" font-weight="normal" fill="#d3d3d3" textLength="36.5" lengthAdjust="spacingAndGlyphs" stroke="#d3d3d3" stroke-width="0.9">42</text>
<text x="697.5" y="619.0" font-size="16.5" font-weight="bold" fill="#0c0f66" textLength="25.0" lengthAdjust="spacingAndGlyphs">OK</text>
<text x="696.0" y="649.0" font-size="29.0" font-weight="normal" fill="#d3d3d3" textLength="33.0" lengthAdjust="spacingAndGlyphs" stroke="#d3d3d3" stroke-width="0.9">55</text>
<text x="809.0" y="635.0" font-size="16.5" font-weight="bold" fill="#0c0f66" textLength="23.5" lengthAdjust="spacingAndGlyphs">AR</text>
<text x="807.5" y="664.0" font-size="29.0" font-weight="normal" fill="#d3d3d3" textLength="33.5" lengthAdjust="spacingAndGlyphs" stroke="#d3d3d3" stroke-width="0.9">52</text>
<text x="612.5" y="671.0" font-size="16.5" font-weight="bold" fill="#0c0f66" textLength="21.5" lengthAdjust="spacingAndGlyphs">TX</text>
<text x="610.0" y="701.0" font-size="29.0" font-weight="normal" fill="#d3d3d3" textLength="34.0" lengthAdjust="spacingAndGlyphs" stroke="#d3d3d3" stroke-width="0.9">35</text>
<text x="924.0" y="492.5" font-size="16.5" font-weight="bold" fill="#0c0f66" textLength="16.0" lengthAdjust="spacingAndGlyphs">IN</text>
<text x="917.5" y="520.0" font-size="29.0" font-weight="normal" fill="#d3d3d3" textLength="36.5" lengthAdjust="spacingAndGlyphs" stroke="#d3d3d3" stroke-width="0.9">42</text>
<text x="987.5" y="492.5" font-size="16.5" font-weight="bold" fill="#0c0f66" textLength="25.0" lengthAdjust="spacingAndGlyphs">OH</text>
<text x="986.0" y="524.0" font-size="29.0" font-weight="normal" fill="#d3d3d3" textLength="35.0" lengthAdjust="spacingAndGlyphs" stroke="#d3d3d3" stroke-width="0.9">42</text>
<text x="1097.5" y="462.5" font-size="16.5" font-weight="bold" fill="#0c0f66" textLength="22.5" lengthAdjust="spacingAndGlyphs">PA</text>
<text x="1092.5" y="491.0" font-size="29.0" font-weight="normal" fill="#d3d3d3" textLength="37.5" lengthAdjust="spacingAndGlyphs" stroke="#d3d3d3" stroke-width="0.9">40</text>
<text x="1045.0" y="527.5" font-size="16.5" font-weight="bold" fill="#0c0f66" textLength="29.0" lengthAdjust="spacingAndGlyphs">WV</text>
<text x="1031.0" y="557.5" font-size="29.0" font-weight="normal" fill="#d3d3d3" textLength="36.5" lengthAdjust="spacingAndGlyphs" stroke="#d3d3d3" stroke-width="0.9">60</text>
<text x="1087.5" y="541.0" font-size="16.5" font-weight="bold" fill="#0c0f66" textLength="23.5" lengthAdjust="spacingAndGlyphs">VA</text>
<text x="1085.0" y="570.0" font-size="29.0" font-weight="normal" fill="#d3d3d3" textLength="34.0" lengthAdjust="spacingAndGlyphs" stroke="#d3d3d3" stroke-width="0.9">35</text>
<text x="966.0" y="564.0" font-size="16.5" font-weight="bold" fill="#0c0f66" textLength="21.5" lengthAdjust="spacingAndGlyphs">KY</text>
<text x="961.0" y="594.0" font-size="29.0" font-weight="normal" fill="#d3d3d3" textLength="34.0" lengthAdjust="spacingAndGlyphs" stroke="#d3d3d3" stroke-width="0.9">52</text>
<text x="935.0" y="624.0" font-size="16.5" font-weight="bold" fill="#0c0f66" textLength="21.0" lengthAdjust="spacingAndGlyphs">TN</text>
<text x="930.0" y="651.0" font-size="29.0" font-weight="normal" fill="#d3d3d3" textLength="35.0" lengthAdjust="spacingAndGlyphs" stroke="#d3d3d3" stroke-width="0.9">47</text>
<text x="1085.0" y="604.0" font-size="16.5" font-weight="bold" fill="#0c0f66" textLength="22.5" lengthAdjust="spacingAndGlyphs">NC</text>
<text x="1085.0" y="634.0" font-size="29.0" font-weight="normal" fill="#d3d3d3" textLength="32.5" lengthAdjust="spacingAndGlyphs" stroke="#d3d3d3" stroke-width="0.9">37</text>
<text x="1054.0" y="654.0" font-size="16.5" font-weight="bold" fill="#0c0f66" textLength="21.0" lengthAdjust="spacingAndGlyphs">SC</text>
<text x="1050.5" y="682.5" font-size="29.0" font-weight="normal" fill="#d3d3d3" textLength="36.0" lengthAdjust="spacingAndGlyphs" stroke="#d3d3d3" stroke-width="0.9">45</text>
<text x="987.5" y="662.5" font-size="16.5" font-weight="bold" fill="#0c0f66" textLength="23.5" lengthAdjust="spacingAndGlyphs">GA</text>
<text x="986.0" y="692.5" font-size="29.0" font-weight="normal" fill="#d3d3d3" textLength="33.0" lengthAdjust="spacingAndGlyphs" stroke="#d3d3d3" stroke-width="0.9">37</text>
<text x="927.5" y="669.0" font-size="16.5" font-weight="bold" fill="#0c0f66" textLength="22.5" lengthAdjust="spacingAndGlyphs">AL</text>
<text x="927.5" y="700.0" font-size="29.0" font-weight="normal" fill="#d3d3d3" textLength="32.5" lengthAdjust="spacingAndGlyphs" stroke="#d3d3d3" stroke-width="0.9">53</text>
<text x="871.0" y="671.0" font-size="16.5" font-weight="bold" fill="#0c0f66" textLength="25.0" lengthAdjust="spacingAndGlyphs">MS</text>
<text x="870.0" y="700.0" font-size="29.0" font-weight="normal" fill="#d3d3d3" textLength="35.0" lengthAdjust="spacingAndGlyphs" stroke="#d3d3d3" stroke-width="0.9">54</text>
<text x="809.0" y="729.0" font-size="16.5" font-weight="bold" fill="#0c0f66" textLength="21.0" lengthAdjust="spacingAndGlyphs">LA</text>
<text x="806.0" y="760.0" font-size="29.0" font-weight="normal" fill="#d3d3d3" textLength="33.0" lengthAdjust="spacingAndGlyphs" stroke="#d3d3d3" stroke-width="0.9">52</text>
<text x="1047.5" y="787.5" font-size="16.5" font-weight="bold" fill="#0c0f66" textLength="19.5" lengthAdjust="spacingAndGlyphs">FL</text>
<text x="1047.5" y="817.5" font-size="29.0" font-weight="normal" fill="#d3d3d3" textLength="36.0" lengthAdjust="spacingAndGlyphs" stroke="#d3d3d3" stroke-width="0.9">28</text>
<text x="944.9" y="395.4" font-size="16.5" font-weight="bold" fill="#0c0f66" textLength="18.9" lengthAdjust="spacingAndGlyphs">MI</text>
<text x="929.6" y="429.6" font-size="29.0" font-weight="normal" fill="#d3d3d3" textLength="34.2" lengthAdjust="spacingAndGlyphs" stroke="#d3d3d3" stroke-width="0.9">39</text>
<text x="1208.8" y="289.0" font-size="16.5" font-weight="bold" fill="#0c0f66" textLength="25.2" lengthAdjust="spacingAndGlyphs">ME</text>
<text x="1206.0" y="320.0" font-size="29.0" font-weight="normal" fill="#d3d3d3" textLength="35.0" lengthAdjust="spacingAndGlyphs" stroke="#d3d3d3" stroke-width="0.9">47</text>
<text x="1150.0" y="316.0" font-size="16.5" font-weight="bold" fill="#0c0f66" textLength="21.0" lengthAdjust="spacingAndGlyphs">VT</text>
<text x="1160.0" y="375.0" font-size="29.0" font-weight="normal" fill="#d3d3d3" textLength="35.0" lengthAdjust="spacingAndGlyphs" stroke="#d3d3d3" stroke-width="0.9">50</text>
<text x="1087.5" y="355.0" font-size="16.5" font-weight="bold" fill="#0c0f66" textLength="22.5" lengthAdjust="spacingAndGlyphs">NY</text>
<text x="1055.0" y="395.0" font-size="29.0" font-weight="normal" fill="#686868" textLength="30.0" lengthAdjust="spacingAndGlyphs" stroke="#686868" stroke-width="0.9">14</text>
<text x="1237.8" y="393.0" font-size="16.5" font-weight="bold" fill="#0c0f66" textLength="24.2" lengthAdjust="spacingAndGlyphs">NH</text>
<text x="1269.7" y="396.3" font-size="29.0" font-weight="normal" fill="#686868" textLength="37.3" lengthAdjust="spacingAndGlyphs" stroke="#686868" stroke-width="0.9">46</text>
<text x="1257.6" y="426.0" font-size="16.5" font-weight="bold" fill="#0c0f66" textLength="27.4" lengthAdjust="spacingAndGlyphs">MA</text>
<text x="1295.0" y="429.3" font-size="29.0" font-weight="normal" fill="#686868" textLength="17.6" lengthAdjust="spacingAndGlyphs" stroke="#686868" stroke-width="0.9">9</text>
<text x="1236.7" y="453.5" font-size="16.5" font-weight="bold" fill="#0c0f66" textLength="15.3" lengthAdjust="spacingAndGlyphs">RI</text>
<text x="1271.9" y="456.8" font-size="29.0" font-weight="normal" fill="#686868" textLength="31.9" lengthAdjust="spacingAndGlyphs" stroke="#686868" stroke-width="0.9">14</text>
<text x="1221.3" y="477.7" font-size="16.5" font-weight="bold" fill="#0c0f66" textLength="20.9" lengthAdjust="spacingAndGlyphs">CT</text>
<text x="1257.6" y="485.4" font-size="29.0" font-weight="normal" fill="#686868" textLength="28.6" lengthAdjust="spacingAndGlyphs" stroke="#686868" stroke-width="0.9">18</text>
<text x="1218.0" y="507.4" font-size="16.5" font-weight="bold" fill="#0c0f66" textLength="19.8" lengthAdjust="spacingAndGlyphs">NJ</text>
<text x="1263.0" y="511.8" font-size="29.0" font-weight="normal" fill="#686868" textLength="17.7" lengthAdjust="spacingAndGlyphs" stroke="#686868" stroke-width="0.9">9</text>
<text x="1211.4" y="531.6" font-size="16.5" font-weight="bold" fill="#0c0f66" textLength="23.1" lengthAdjust="spacingAndGlyphs">DE</text>
<text x="1251.0" y="538.2" font-size="29.0" font-weight="normal" fill="#686868" textLength="35.2" lengthAdjust="spacingAndGlyphs" stroke="#686868" stroke-width="0.9">38</text>
<text x="1203.7" y="554.7" font-size="16.5" font-weight="bold" fill="#0c0f66" textLength="26.3" lengthAdjust="spacingAndGlyphs">MD</text>
<text x="1245.5" y="563.5" font-size="29.0" font-weight="normal" fill="#686868" textLength="28.5" lengthAdjust="spacingAndGlyphs" stroke="#686868" stroke-width="0.9">16</text>
<text x="277.0" y="773.9" font-size="16.5" font-weight="bold" fill="#0c0f66" textLength="23.5" lengthAdjust="spacingAndGlyphs">AK</text>
<text x="277.0" y="805.6" font-size="29.0" font-weight="normal" fill="#d3d3d3" textLength="34.0" lengthAdjust="spacingAndGlyphs" stroke="#d3d3d3" stroke-width="0.9">57</text>
<text x="527.0" y="861.0" font-size="16.5" font-weight="bold" fill="#0c0f66" textLength="16.0" lengthAdjust="spacingAndGlyphs">HI</text>
<text x="482.0" y="891.0" font-size="29.0" font-weight="normal" fill="#686868" textLength="17.0" lengthAdjust="spacingAndGlyphs" stroke="#686868" stroke-width="0.9">9</text>
<polygon points="1213.2,604.3 1347.9,604.3 1413.9,719.2 1347.9,834.4 1213.2,834.4 1147.2,719.2" fill="#333333"/>
<path fill="#fff" d="M1217.1,666.7 Q1223,667.5 1231.4,669.3 L1356,669.3 Q1362.7,669.3 1362.7,675 L1362.7,688 Q1362.7,691.4 1359,691.4 L1353.6,691.4 L1353.6,699 Q1353.6,705.7 1346,705.7 L1297.7,705.7 L1294.5,718 Q1291,727.8 1281,727.8 L1265.2,727.8 L1265.2,766.8 Q1265.2,776 1256,776 L1229,776 Q1220,776 1221,767 L1230.1,712.2 L1230.1,705 Q1229,697 1220,695 L1216,694 Q1214.5,692 1216,689 Q1221,682 1220,675 Q1219,670 1217.1,666.7 Z M1269,708 Q1273,715 1281,718 L1282.5,715.5 Q1276,713 1273.5,708 Z M1265.2,708.3 L1265.2,722.5 L1281,722.5 Q1287,722.5 1289,716 L1291.5,705.7 L1265.2,705.7 Z"/>
<g fill="none" stroke="#666666" stroke-linecap="round">
<path d="M84,856.3 C80,859 79.5,865 82,868.5 C88,874 97,884 102,891 C106,898 108,906 107.5,914 C107,921 100,926 93,927.5 C91,927.8 89,927 88,926.5" stroke-width="2.8"/>
<path d="M82,869.5 C80,875 82,880 89.5,886 C94,891 95.5,897 94.5,899 C93.5,902 91,903 90,904 C89.5,906 90,907 90.5,908" stroke-width="2.5"/>
<path d="M83,871 C84,882 80,896 76,907 C74,913 74.5,920 73.5,925 C72.5,931 75,937 80,939 C83,940 85,938 86,935" stroke-width="2.5"/>
<path d="M79,879 C79,884 75,886 72,888 C66,891 61,895 58,901 C56,907 57,914 59,919 C61,926 65,930 71,930" stroke-width="2.7"/>
<path d="M79.5,882 C78,888 76,892 75,895 C72,902 70.5,910 69.5,920 C69.5,925 70,928 71.5,929" stroke-width="2.2"/>
<circle cx="63.5" cy="915" r="3" stroke-width="2.4"/>
<path d="M98.5,901 C94,908 90,913 86,918" stroke-width="3"/>
<path d="M84.5,921 C84,928 83,935 80,941" stroke-width="3"/>
<path d="M66.5,896 C64,899 64,902 66.5,903.5 M90,931 L93.5,935 M89,893.5 L83.5,901" stroke-width="1.6"/>
</g>
<g fill="#666666"><circle cx="76.5" cy="877.3" r="2.6"/><circle cx="73" cy="881.8" r="2.6"/>
<rect x="84.8" y="909.4" width="3.3" height="3.3" transform="rotate(30 86.5 911.0)"/>
<rect x="95.8" y="916.4" width="3.3" height="3.3" transform="rotate(30 97.5 918.0)"/>
<rect x="78.3" y="924.9" width="3.3" height="3.3" transform="rotate(30 80.0 926.5)"/>
<rect x="77.3" y="930.9" width="3.3" height="3.3" transform="rotate(30 79.0 932.5)"/>
</g>
<text x="38.0" y="960.7" font-size="16.5" font-weight="bold" fill="#6e6e6e" textLength="88.7" lengthAdjust="spacingAndGlyphs">ALJAZEERA</text>
<rect x="138.5" y="931" width="83" height="29.5" fill="#000"/>
<rect x="140" y="932.5" width="80" height="20" fill="#abb1aa"/>
<circle cx="152.7" cy="944.5" r="11.3" fill="#abb1aa"/><circle cx="152.7" cy="944.5" r="10" fill="#000"/><circle cx="152.7" cy="944.5" r="8.3" fill="#fff"/>
<text x="152.7" y="948.3" font-size="10.5" font-weight="bold" fill="#000" text-anchor="middle">cc</text>
<circle cx="174.0" cy="942" r="7.4" fill="#000"/><circle cx="174.0" cy="942" r="6" fill="#fff"/>
<circle cx="192.4" cy="942" r="7.4" fill="#000"/><circle cx="192.4" cy="942" r="6" fill="#fff"/>
<circle cx="210.8" cy="942" r="7.4" fill="#000"/><circle cx="210.8" cy="942" r="6" fill="#fff"/>
<circle cx="174" cy="938.2" r="1.3" fill="#000"/><rect x="172.4" y="940" width="3.2" height="6.5" fill="#000"/>
<path d="M188.5,941 L196,941 M188.5,943.5 L196,943.5 M190,937.5 L195,946.5" stroke="#000" stroke-width="1.4"/>
<path d="M207.5,942 A3.3,3.3 0 1 1 210.8,945.3" fill="none" stroke="#000" stroke-width="1.6"/><path d="M205.5,940.5 L209.5,940.5 L207.5,943.5Z" fill="#000"/>
<text x="173.6" y="959" font-size="6.5" font-weight="bold" fill="#fff" text-anchor="middle">BY</text>
<text x="192.0" y="959" font-size="6.5" font-weight="bold" fill="#fff" text-anchor="middle">NC</text>
<text x="210.0" y="959" font-size="6.5" font-weight="bold" fill="#fff" text-anchor="middle">SA</text>
<text x="226.7" y="960.0" font-size="20.0" font-weight="bold" fill="#f0992a" textLength="81.6" lengthAdjust="spacingAndGlyphs">@AJLabs</text>
<text x="328.3" y="959.3" font-size="17.0" font-weight="bold" fill="#666666" textLength="165.0" lengthAdjust="spacingAndGlyphs">Source: rand.org | 2020</text>
<g fill="#2b3990"><rect x="1378.7" y="917" width="9" height="8.7"/><rect x="1396.3" y="917" width="9" height="8.7"/><rect x="1378.7" y="934.4" width="9" height="8.9"/><rect x="1396.3" y="934.4" width="9" height="8.9"/></g>
<g fill="#ff0000"><rect x="1414" y="917" width="44" height="8.7"/><rect x="1378.7" y="952" width="79.3" height="9"/></g>
<text x="1299.3" y="943.3" font-size="12.3" font-weight="bold" fill="#ff0000" textLength="70.7" lengthAdjust="spacing" stroke="#ff0000" stroke-width="0.5">SIMPLY</text>
<text x="1414.0" y="943.3" font-size="12.3" font-weight="bold" fill="#ff0000" textLength="44.0" lengthAdjust="spacing" stroke="#ff0000" stroke-width="0.5">2020</text>
</svg></body></html>
